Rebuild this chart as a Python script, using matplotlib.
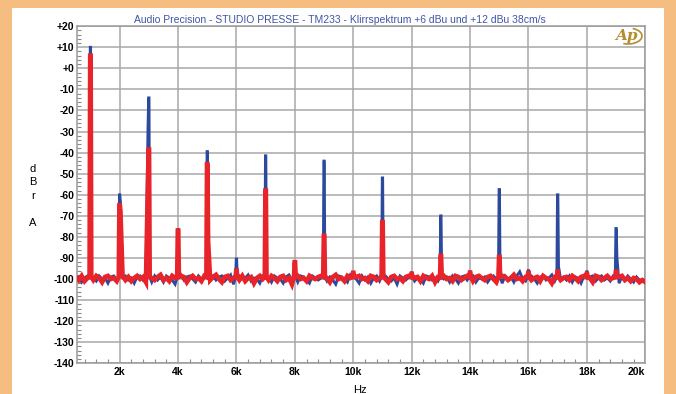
import numpy as np
import matplotlib
matplotlib.use('Agg')
import matplotlib.pyplot as plt
from matplotlib.patches import Rectangle, Arc
from matplotlib.ticker import MultipleLocator, FixedLocator

plt.rcParams['font.family'] = ['Liberation Sans', 'DejaVu Sans']

# noise floor, one value every 100 Hz from 500 Hz to 20 kHz (dBrA)
floor_start, floor_step = 500, 100
red_floor = [
    -99.0, -100.5, -98.5, -101.0, -99.5, -99.0, -100.5, -98.5, -99.5, -101.5, -99.0, -98.5, -100.0, -99.5,
    -101.0, -99.0, -98.5, -100.5, -99.0, -101.0, -99.5, -98.5, -100.0, -99.0, -101.5, -98.5, -99.5, -100.5,
    -99.0, -98.0, -100.5, -99.5, -101.0, -98.5, -99.5, -100.0, -98.5, -99.0, -101.5, -99.5, -98.5, -100.0,
    -99.5, -101.0, -98.5, -99.5, -100.5, -99.0, -98.0, -100.0, -101.5, -99.0, -98.5, -100.5, -99.5, -99.0,
    -100.5, -98.5, -101.0, -99.5, -99.0, -102.0, -99.5, -98.5, -100.0, -99.0, -100.5, -98.5, -99.5, -101.0,
    -99.0, -98.5, -100.5, -99.5, -102.5, -99.0, -98.5, -100.0, -99.5, -101.0, -98.5, -99.5, -100.0, -99.0,
    -98.5, -100.5, -99.5, -101.5, -99.0, -98.0, -100.0, -99.5, -101.0, -98.5, -99.5, -100.5, -99.0, -98.5,
    -100.0, -99.5, -101.0, -98.5, -99.0, -100.5, -99.5, -98.0, -100.0, -101.5, -99.0, -98.5, -100.0, -99.5,
    -101.0, -99.0, -98.5, -100.5, -99.5, -99.0, -101.0, -98.5, -99.5, -100.0, -98.5, -101.5, -99.0, -99.5,
    -98.5, -100.0, -99.5, -101.0, -98.5, -99.0, -100.5, -99.5, -98.5, -100.0, -101.0, -99.0, -98.5, -99.5,
    -100.5, -99.0, -98.5, -100.0, -101.5, -99.5, -98.5, -99.0, -100.5, -99.5, -98.0, -100.0, -99.5, -101.0,
    -99.0, -98.5, -100.5, -99.5, -99.0, -101.0, -98.5, -99.5, -100.0, -102.0, -99.0, -98.5, -100.5, -99.5,
    -99.0, -100.5, -98.5, -99.5, -101.0, -99.0, -98.5, -100.0, -99.5, -101.5, -98.5, -99.0, -100.5, -99.5,
    -98.5, -100.0, -99.5, -101.0, -99.0, -98.5, -100.5, -99.5, -101.0, -99.5, -100.0, -101.5, -100.5, -101.5,
]
blue_floor = [
    -100.0, -99.0, -101.5, -99.5, -98.5, -100.0, -99.5, -101.0, -98.5, -100.0, -99.5, -102.0, -99.0, -98.5,
    -100.0, -101.0, -99.0, -98.5, -100.5, -99.5, -102.0, -99.0, -98.5, -100.5, -99.0, -100.0, -101.5, -98.5,
    -100.5, -99.0, -101.5, -98.5, -99.5, -100.5, -102.5, -99.0, -98.0, -100.5, -99.0, -98.5, -100.0, -101.5,
    -98.5, -100.0, -99.5, -102.0, -99.0, -98.5, -100.5, -99.0, -98.5, -101.0, -99.5, -98.0, -102.5, -99.5,
    -98.5, -100.0, -99.5, -98.0, -101.0, -99.5, -100.0, -102.0, -98.5, -100.5, -99.0, -101.5, -98.5, -99.5,
    -100.0, -102.0, -99.0, -98.0, -100.5, -99.5, -101.5, -98.5, -99.0, -100.5, -102.0, -98.5, -99.5, -100.5,
    -99.5, -98.0, -101.0, -99.0, -100.5, -102.5, -98.5, -99.0, -100.0, -101.5, -98.0, -99.5, -100.0, -102.0,
    -98.5, -100.5, -99.0, -102.0, -99.5, -98.5, -101.0, -99.0, -98.5, -100.0, -101.0, -99.5, -102.5, -98.5,
    -99.5, -100.5, -99.0, -98.0, -101.0, -99.5, -100.0, -102.0, -98.5, -99.0, -100.5, -99.5, -101.0, -98.0,
    -100.0, -99.0, -101.5, -98.5, -100.0, -102.0, -99.0, -98.5, -100.5, -99.0, -98.5, -101.5, -99.5, -100.0,
    -99.0, -101.5, -99.5, -98.5, -100.0, -99.0, -102.0, -98.5, -100.0, -99.0, -101.5, -98.5, -96.5, -100.0,
    -101.0, -99.5, -98.5, -100.0, -102.0, -99.0, -98.5, -100.5, -99.5, -98.0, -101.0, -99.5, -100.0, -99.0,
    -100.5, -98.5, -101.5, -99.0, -99.5, -102.0, -98.5, -100.0, -99.0, -98.5, -101.0, -99.5, -98.5, -100.5,
    -99.5, -101.0, -98.5, -99.5, -102.0, -99.0, -100.5, -98.5, -100.0, -101.5, -99.0, -100.5, -101.0, -100.5,
]

# harmonics of the 1 kHz test tone
harm_freqs = [1000, 2000, 3000, 4000, 5000, 6000, 7000, 8000, 9000, 10000,
              11000, 12000, 13000, 14000, 15000, 16000, 17000, 18000, 19000]
blue_peak = [10.0, -60.0, -14.0, -76.5, -39.5, -90.5, -41.5, -92.5, -44.0, -97.0,
             -52.0, -97.0, -70.0, -96.5, -57.5, -96.0, -60.0, -96.5, -76.0]
blue_left = [-99, -99, -28, -99, -99, -99, -99, -99, -99, -99,
             -99, -99, -99, -99, -99, -99, -99, -99, -99]
blue_right = [-99, -63.5, -99, -99, -99, -99, -99, -99, -99, -99,
              -99, -99, -99, -99, -99, -99, -94, -99, -89.5]
red_peak = [6.0, -65.0, -38.5, -77.0, -45.5, -96.0, -58.0, -92.0, -79.5, -97.0,
            -73.0, -97.5, -89.0, -97.0, -89.5, -97.0, -96.5, -97.5, -96.5]
red_left = [-99, -99, -53, -99, -99, -99, -99, -99, -99, -99,
            -99, -99, -99, -99, -99, -99, -99, -99, -99]
red_right = [-99, -68.5, -99, -99, -82, -99, -99, -99, -99, -99,
             -99, -99, -99, -99, -99, -99, -99, -99, -99]


def build_trace(floor, peaks, left, right):
    f = floor_start + floor_step * np.arange(len(floor))
    v = np.asarray(floor, dtype=float)
    keep = np.ones(len(f), dtype=bool)
    for h in harm_freqs:
        keep &= np.abs(f - h) > 60
    fx, vy = list(f[keep]), list(v[keep])
    for h, p, l, r in zip(harm_freqs, peaks, left, right):
        fx += [h - 30, h - 8, h + 8, h + 30]
        vy += [l, p, p, r]
    order = np.argsort(fx)
    return np.array(fx)[order], np.array(vy)[order]


fig = plt.figure(figsize=(6.76, 3.94), dpi=100)
fig.patch.set_facecolor('#F5BE80')
fig.add_artist(Rectangle((12 / 676, 0), 652 / 676, 1 - 8 / 394,
                         transform=fig.transFigure, facecolor='white',
                         edgecolor='none', zorder=0))

ax = fig.add_axes([76.7 / 676, 1 - 363.3 / 394, 568.6 / 676, 337.1 / 394])
ax.set_facecolor('white')

bx, by = build_trace(blue_floor, blue_peak, blue_left, blue_right)
rx, ry = build_trace(red_floor, red_peak, red_left, red_right)
ax.plot(bx, by, color='#2b4a9e', lw=2.0, solid_joinstyle='miter', zorder=3)
ax.plot(rx, ry, color='#e8232a', lw=3.3, solid_joinstyle='miter', zorder=4)

ax.set_xlim(530, 20000)
ax.set_ylim(-140, 20)

ax.xaxis.set_major_locator(FixedLocator(np.arange(2000, 20001, 2000)))
ax.xaxis.set_minor_locator(MultipleLocator(400))
ax.yaxis.set_major_locator(MultipleLocator(10))
ax.yaxis.set_minor_locator(MultipleLocator(2))
ax.set_xticklabels([f'{int(v / 1000)}k' for v in np.arange(2000, 20001, 2000)])
ax.set_yticks(np.arange(-140, 21, 10))
ax.set_yticklabels([f'{v:+d}' for v in range(-140, 21, 10)])

ax.grid(True, which='major', color='#a8a8a8', lw=1.1, zorder=1)
ax.tick_params(which='major', length=0, labelsize=7.5, pad=3)
ax.tick_params(axis='y', which='major', pad=1.5)
ax.tick_params(which='minor', direction='in', length=3, width=0.8, color='#8a8a8a')
ax.tick_params(axis='x', which='minor', top=False)
for lab in ax.get_xticklabels() + ax.get_yticklabels():
    lab.set_fontweight('bold')
ax.get_xticklabels()[-1].set_horizontalalignment('right')

for s in ax.spines.values():
    s.set_color('#9a9a9a')
    s.set_linewidth(1.1)

fig.text(339.5 / 676, 1 - 20 / 394,
         'Audio Precision - STUDIO PRESSE - TM233 - Klirrspektrum +6 dBu und +12 dBu 38cm/s',
         ha='center', va='center', fontsize=7.5, color='#3f55a6')
fig.text(33 / 676, 1 - 196 / 394, 'd\nB\nr\n\nA', ha='center', va='center',
         fontsize=8, linespacing=1.45)
fig.text(360 / 676, 1 - 390 / 394, 'Hz', ha='center', va='center', fontsize=8)

# Audio Precision logo
fig.text(626 / 676, 1 - 36 / 394, 'Ap', ha='center', va='center', fontsize=11,
         style='italic', fontweight='bold', color='#b48c2e', family='DejaVu Serif')
fig.add_artist(Arc((628 / 676, 1 - 36 / 394), 28 / 676, 16 / 394, theta1=-110, theta2=70,
                   transform=fig.transFigure, color='#b48c2e', lw=1.2))

fig.savefig('out.png', dpi=100, facecolor=fig.get_facecolor())
